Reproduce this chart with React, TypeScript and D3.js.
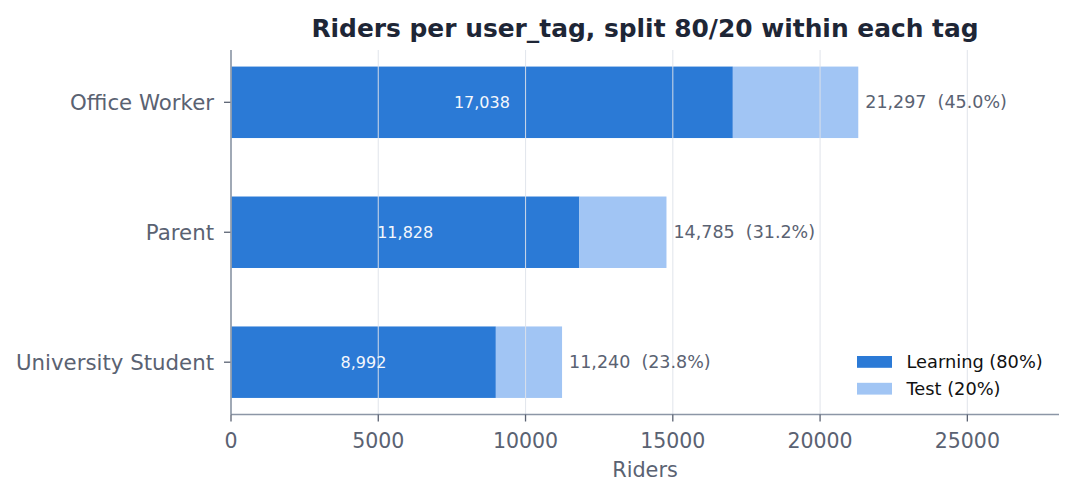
import React from "react";
import * as d3 from "d3";

const categories = ["University Student", "Parent", "Office Worker"];
const learning = [8992, 11828, 17038];
const test = [2248, 2957, 4259];
const totals = [11240, 14785, 21297];
const xTicks = [0, 5000, 10000, 15000, 20000, 25000];
const seriesNames = ["Learning (80%)", "Test (20%)"];
const colors = ["#2b7ad6", "#a1c5f4"];

const W = 1075, H = 498;
const left = 231, right = 1059, top = 50, bottom = 414.5;
const font = "DejaVu Sans, sans-serif";

export default function App() {
  const grand = d3.sum(totals);
  const x = d3.scaleLinear().domain([0, 28112]).range([left, right]);
  const y = d3.scaleLinear().domain([-0.4025, 2.4025]).range([bottom, top]);
  const bh = y(0) - y(0.55);
  const fmt = d3.format(",");
  return (
    <svg width={W} height={H} style={{ position: "absolute", left: 0, top: 0, display: "block" }} fontFamily={font}>
      <rect width={W} height={H} fill="#fff" />
      <text x={(left + right) / 2} y={36.5} textAnchor="middle" fontSize={24.9} fontWeight="bold" fill="#1e2636">
        Riders per user_tag, split 80/20 within each tag
      </text>
      {categories.map((c, i) => (
        <g key={c}>
          <rect x={x(0)} y={y(i) - bh / 2} width={x(learning[i]) - x(0)} height={bh} fill={colors[0]} />
          <rect x={x(learning[i])} y={y(i) - bh / 2} width={x(learning[i] + test[i]) - x(learning[i])} height={bh} fill={colors[1]} />
        </g>
      ))}
      {xTicks.map((t) => (
        <line key={t} x1={x(t)} x2={x(t)} y1={top} y2={bottom} stroke="#dfe3ea" strokeWidth={1.1} opacity={0.85} />
      ))}
      {categories.map((c, i) => (
        <g key={c + "l"}>
          <text x={(x(0) + x(learning[i])) / 2} y={y(i) + 5.5} textAnchor="middle" fontSize={16} fill="#f4f7fc">
            {fmt(learning[i])}
          </text>
          <text x={x(totals[i]) + 7} y={y(i) + 6} fontSize={17.5} fill="#5a6272" style={{ whiteSpace: "pre" }}>
            {`${fmt(totals[i])}  (${((totals[i] / grand) * 100).toFixed(1)}%)`}
          </text>
          <line x1={left - 7} x2={left} y1={y(i)} y2={y(i)} stroke="#5a6272" strokeWidth={1.3} />
          <text x={left - 17} y={y(i) + 8} textAnchor="end" fontSize={21.3} fill="#5a6272">
            {c}
          </text>
        </g>
      ))}
      <line x1={left} x2={left} y1={top} y2={bottom} stroke="#8c96a6" strokeWidth={1.6} />
      <line x1={left} x2={right} y1={bottom} y2={bottom} stroke="#8c96a6" strokeWidth={1.6} />
      {xTicks.map((t) => (
        <g key={t + "t"}>
          <line x1={x(t)} x2={x(t)} y1={bottom} y2={bottom + 7} stroke="#5a6272" strokeWidth={1.3} />
          <text x={x(t)} y={bottom + 33.5} textAnchor="middle" fontSize={20.5} fill="#5a6272">
            {t}
          </text>
        </g>
      ))}
      <text x={(left + right) / 2} y={477} textAnchor="middle" fontSize={20.8} fill="#5a6272">
        Riders
      </text>
      {seriesNames.map((s, i) => (
        <g key={s}>
          <rect x={857} y={356 + i * 26.8} width={35} height={11.8} fill={colors[i]} />
          <text x={906.5} y={368.3 + i * 26.8} fontSize={17.8} fill="#111">
            {s}
          </text>
        </g>
      ))}
    </svg>
  );
}
